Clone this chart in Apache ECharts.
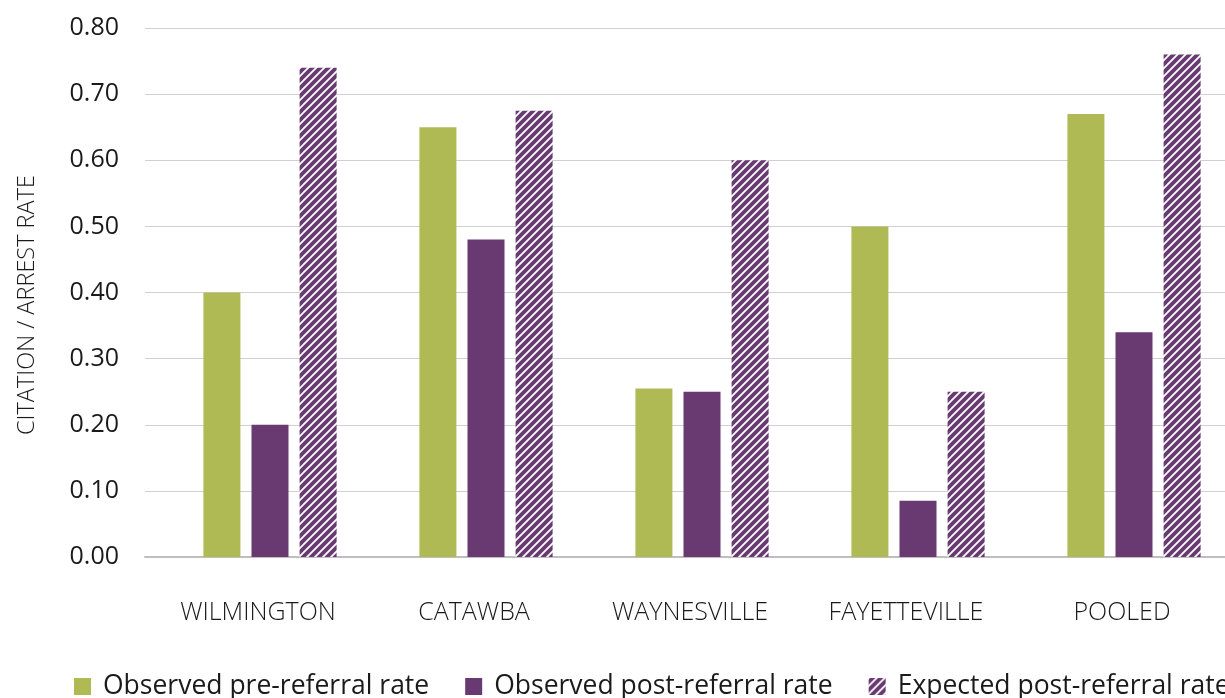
<!DOCTYPE html>
<html>
<head>
<meta charset="utf-8">
<script src="https://cdn.jsdelivr.net/npm/echarts@6/dist/echarts.min.js"></script>
<style>
html,body{margin:0;padding:0;background:#fff;}
#chart{width:1225px;height:698px;}
</style>
</head>
<body>
<div id="chart"></div>
<script>
// ---- data ----
var categories = ['WILMINGTON', 'CATAWBA', 'WAYNESVILLE', 'FAYETTEVILLE', 'POOLED'];
var seriesNames = ['Observed pre-referral rate', 'Observed post-referral rate', 'Expected post-referral rate'];
var preReferral = [0.40, 0.65, 0.255, 0.50, 0.67];
var postReferral = [0.20, 0.48, 0.25, 0.085, 0.34];
var expectedPost = [0.74, 0.675, 0.60, 0.25, 0.76];
var yTicks = { min: 0, max: 0.8, interval: 0.1 };
var yTitle = 'CITATION / ARREST RATE';

// ---- styles ----
var GREEN = '#B0BA55';
var PURPLE = '#693A72';
var sans = "'Open Sans', 'Noto Sans', sans-serif";

function makeHatch() {
  var s = 8;
  var c = document.createElement('canvas');
  c.width = s; c.height = s;
  var g = c.getContext('2d');
  g.fillStyle = PURPLE;
  g.fillRect(0, 0, s, s);
  g.strokeStyle = '#ffffff';
  g.lineWidth = 1.8;
  g.beginPath();
  g.moveTo(-1, s + 1); g.lineTo(s + 1, -1);
  g.moveTo(-1 - s, s + 1); g.lineTo(1, -1);
  g.moveTo(s - 1, s + 1); g.lineTo(2 * s + 1, -1);
  g.stroke();
  return c;
}
var hatch = { image: makeHatch(), repeat: 'repeat' };

var chart = echarts.init(document.getElementById('chart'), null, { renderer: 'canvas' });
chart.setOption({
  animation: false,
  backgroundColor: '#fff',
  grid: [
    { left: 145, right: 0, top: 28, bottom: 141, containLabel: false, outerBoundsMode: 'none' },
    { left: 162, width: 1080, top: 28, bottom: 141, containLabel: false, outerBoundsMode: 'none' }
  ],
  xAxis: [
    { type: 'category', gridIndex: 0, data: categories,
      axisLine: { show: true, lineStyle: { color: '#BFBFBF', width: 2 } },
      axisTick: { show: false }, axisLabel: { show: false } },
    { type: 'category', gridIndex: 1, data: categories,
      axisLine: { show: false }, axisTick: { show: false },
      axisLabel: { interval: 0, margin: 43, color: '#1a1a1a', fontFamily: sans, fontWeight: 300, fontSize: 25,
        padding: [0, 24, 0, 0] } }
  ],
  yAxis: [
    { type: 'value', gridIndex: 0, min: yTicks.min, max: yTicks.max, interval: yTicks.interval,
      name: yTitle, nameLocation: 'middle', nameGap: 106,
      nameTextStyle: { color: '#1a1a1a', fontFamily: sans, fontWeight: 300, fontSize: 23.5, padding: [0, 25, 0, 0] },
      axisLine: { show: false }, axisTick: { show: false },
      axisLabel: { margin: 26, color: '#1a1a1a', fontFamily: sans, fontSize: 25,
        formatter: function (v) { return v.toFixed(2); } },
      splitLine: { lineStyle: { color: '#D0D0D0', width: 1 } } },
    { type: 'value', gridIndex: 1, min: yTicks.min, max: yTicks.max, interval: yTicks.interval,
      axisLine: { show: false }, axisTick: { show: false }, axisLabel: { show: false },
      splitLine: { show: false } }
  ],
  legend: {
    left: 74, bottom: -2, width: 2000, padding: 0,
    itemWidth: 17, itemHeight: 17, itemGap: 36,
    icon: 'rect',
    textStyle: { color: '#1a1a1a', fontFamily: sans, fontSize: 26.5, padding: [0, 0, 0, 7] },
    data: seriesNames
  },
  series: [
    { name: seriesNames[0], type: 'bar', xAxisIndex: 1, yAxisIndex: 1, data: preReferral,
      barWidth: 37, barGap: '30%', itemStyle: { color: GREEN } },
    { name: seriesNames[1], type: 'bar', xAxisIndex: 1, yAxisIndex: 1, data: postReferral,
      barWidth: 37, barGap: '30%', itemStyle: { color: PURPLE } },
    { name: seriesNames[2], type: 'bar', xAxisIndex: 1, yAxisIndex: 1, data: expectedPost,
      barWidth: 37, barGap: '30%', itemStyle: { color: hatch } }
  ]
});
</script>
</body>
</html>
